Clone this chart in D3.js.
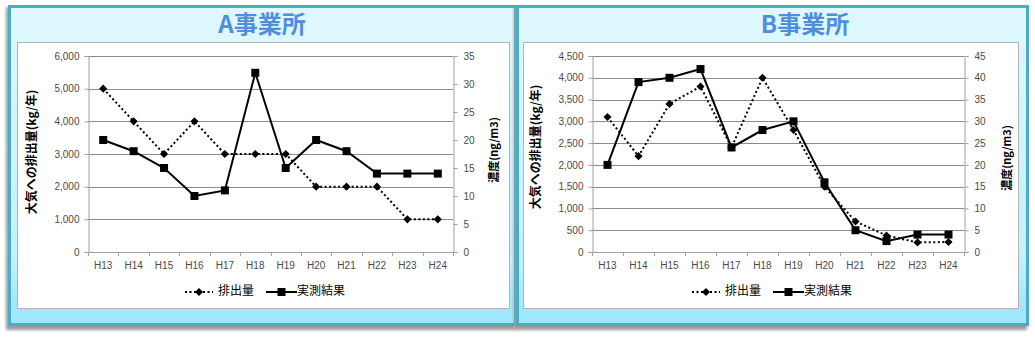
<!DOCTYPE html>
<html>
<head>
<meta charset="utf-8">
<script src="https://cdn.jsdelivr.net/npm/d3@7"></script>
<style>
  html, body { margin: 0; padding: 0; background: #ffffff; }
  svg { display: block; }
</style>
</head>
<body>
<svg id="chart" width="1035" height="338"></svg>
<script>
// ---- data ----
const years = ["H13","H14","H15","H16","H17","H18","H19","H20","H21","H22","H23","H24"];

const titleA = "A事業所";
const emissionA = [5000, 4000, 3000, 4000, 3000, 3000, 3000, 2000, 2000, 2000, 1000, 1000];
const measuredA = [20, 18, 15, 10, 11, 32, 15, 20, 18, 14, 14, 14];
const leftTicksA = [0, 1000, 2000, 3000, 4000, 5000, 6000];
const rightTicksA = [0, 5, 10, 15, 20, 25, 30, 35];

const titleB = "B事業所";
const emissionB = [3100, 2200, 3400, 3800, 2400, 4000, 2800, 1500, 700, 380, 220, 230];
const measuredB = [20, 39, 40, 42, 24, 28, 30, 16, 5, 2.5, 4, 4];
const leftTicksB = [0, 500, 1000, 1500, 2000, 2500, 3000, 3500, 4000, 4500];
const rightTicksB = [0, 5, 10, 15, 20, 25, 30, 35, 40, 45];

const leftAxisTitle = "大気への排出量(kg/年)";
const rightAxisTitle = "濃度(ng/m3)";
const seriesNames = ["排出量", "実測結果"];

// ---- drawing ----
const svg = d3.select("#chart");
const defs = svg.append("defs");
const grad = defs.append("linearGradient").attr("id", "panelGrad")
  .attr("x1", 0).attr("y1", 0).attr("x2", 0).attr("y2", 1);
grad.append("stop").attr("offset", "0").attr("stop-color", "#e0f8fe");
grad.append("stop").attr("offset", "0.8").attr("stop-color", "#c2f0fd");
grad.append("stop").attr("offset", "0.94").attr("stop-color", "#a0e8fb");
grad.append("stop").attr("offset", "1").attr("stop-color", "#9fe8fb");
const shadow = defs.append("filter").attr("id", "shadow")
  .attr("x", "-5%").attr("y", "-5%").attr("width", "110%").attr("height", "115%");
shadow.append("feGaussianBlur").attr("stdDeviation", 1.6);

const FONT = "'Liberation Sans', Arial, sans-serif";
const JFONT = "'Noto Sans CJK JP', 'Noto Sans', sans-serif";
const fmt = d3.format(",");

function drawPanel(cfg) {
  const g = svg.append("g");
  // shadow
  g.append("rect")
    .attr("x", cfg.outer[0] - 2).attr("y", cfg.outer[1] + 2)
    .attr("width", cfg.outer[2] - cfg.outer[0]).attr("height", cfg.outer[3] - cfg.outer[1] + 2)
    .attr("fill", "#9a9a9a").attr("filter", "url(#shadow)");
  // panel
  g.append("rect")
    .attr("x", cfg.outer[0] + 1.5).attr("y", cfg.outer[1] + 1.5)
    .attr("width", cfg.outer[2] - cfg.outer[0] - 3).attr("height", cfg.outer[3] - cfg.outer[1] - 3)
    .attr("fill", "url(#panelGrad)")
    .attr("stroke", "#4aacc6").attr("stroke-width", 3);
  // title
  g.append("text")
    .attr("x", cfg.titleX).attr("y", 33)
    .attr("text-anchor", "middle")
    .attr("font-family", JFONT).attr("font-weight", "bold")
    .attr("font-size", 24).attr("fill", "#4f8fd9")
    .text(cfg.title);
  // white chart box
  g.append("rect")
    .attr("x", cfg.box[0] + 0.5).attr("y", cfg.box[1] + 0.5)
    .attr("width", cfg.box[2] - cfg.box[0]).attr("height", cfg.box[3] - cfg.box[1])
    .attr("fill", "#ffffff").attr("stroke", "#b4b4b4").attr("stroke-width", 1);

  const [x0, x1, yTop, yBot] = cfg.plot;
  const x = d3.scaleBand().domain(years).range([x0, x1]);
  const yL = d3.scaleLinear().domain([0, d3.max(cfg.leftTicks)]).range([yBot, yTop]);
  const yR = d3.scaleLinear().domain([0, d3.max(cfg.rightTicks)]).range([yBot, yTop]);

  // gridlines
  g.append("g").selectAll("line").data(cfg.leftTicks.filter(d => d > 0)).join("line")
    .attr("x1", x0).attr("x2", x1)
    .attr("y1", d => Math.round(yL(d)) + 0.5).attr("y2", d => Math.round(yL(d)) + 0.5)
    .attr("stroke", "#8c8c8c").attr("stroke-width", 1);

  // left axis
  const axL = g.append("g").attr("transform", `translate(${x0 + 0.5},0)`)
    .call(d3.axisLeft(yL).tickValues(cfg.leftTicks).tickFormat(fmt).tickSize(4).tickPadding(5));
  // right axis
  const axR = g.append("g").attr("transform", `translate(${x1 + 0.5},0)`)
    .call(d3.axisRight(yR).tickValues(cfg.rightTicks).tickSize(4).tickPadding(6));
  // bottom axis
  const axB = g.append("g").attr("transform", `translate(0,${Math.round(yBot) + 0.5})`)
    .call(d3.axisBottom(x).tickSize(0).tickPadding(9));
  // category boundary ticks
  g.append("g").selectAll("line").data(years.concat(["_end"])).join("line")
    .attr("x1", (d, i) => Math.round(x0 + i * x.step()) + 0.5)
    .attr("x2", (d, i) => Math.round(x0 + i * x.step()) + 0.5)
    .attr("y1", yBot).attr("y2", yBot + 4)
    .attr("stroke", "#a0a0a0");

  [axL, axR, axB].forEach(ax => {
    ax.select(".domain").attr("stroke", "#a0a0a0");
    ax.selectAll(".tick line").attr("stroke", "#a0a0a0");
    ax.selectAll(".tick text").attr("font-family", FONT).attr("font-size", 10).attr("fill", "#4a4a4a");
  });
  axB.select(".domain").attr("d", `M${x0},0H${x1}`);

  // axis titles
  g.append("text")
    .attr("transform", `translate(${cfg.leftTitlePos[0]},${cfg.leftTitlePos[1]}) rotate(-90)`)
    .attr("text-anchor", "middle").attr("dominant-baseline", "middle")
    .attr("font-family", JFONT).attr("font-weight", "bold").attr("font-size", 12).attr("fill", "#000")
    .text(leftAxisTitle);
  g.append("text")
    .attr("transform", `translate(${cfg.rightTitlePos[0]},${cfg.rightTitlePos[1]}) rotate(-90)`)
    .attr("text-anchor", "middle").attr("dominant-baseline", "middle")
    .attr("font-family", JFONT).attr("font-weight", "bold").attr("font-size", 11).attr("fill", "#000")
    .text(rightAxisTitle);

  const cx = d => x(d) + x.bandwidth() / 2;
  const diamond = d3.symbol().type(d3.symbolDiamond2).size(42);
  const square = d3.symbol().type(d3.symbolSquare).size(64);

  // emission series (dotted, left axis)
  const lineL = d3.line().x((d, i) => cx(years[i])).y(d => yL(d));
  g.append("path").datum(cfg.emission)
    .attr("d", lineL).attr("fill", "none").attr("stroke", "#000")
    .attr("stroke-width", 2).attr("stroke-dasharray", "2,2.5");
  g.append("g").selectAll("path").data(cfg.emission).join("path")
    .attr("transform", (d, i) => `translate(${cx(years[i])},${yL(d)})`)
    .attr("d", diamond).attr("fill", "#000");

  // measured series (solid, right axis)
  const lineR = d3.line().x((d, i) => cx(years[i])).y(d => yR(d));
  g.append("path").datum(cfg.measured)
    .attr("d", lineR).attr("fill", "none").attr("stroke", "#000").attr("stroke-width", 2);
  g.append("g").selectAll("path").data(cfg.measured).join("path")
    .attr("transform", (d, i) => `translate(${cx(years[i])},${yR(d)})`)
    .attr("d", square).attr("fill", "#000");

  // legend
  const lg = g.append("g");
  const ly = 292;
  const L = cfg.legendX;
  lg.append("line").attr("x1", L).attr("x2", L + 28).attr("y1", ly).attr("y2", ly)
    .attr("stroke", "#000").attr("stroke-width", 2).attr("stroke-dasharray", "2,2.5");
  lg.append("path").attr("transform", `translate(${L + 14},${ly})`).attr("d", diamond).attr("fill", "#000");
  lg.append("text").attr("x", L + 33).attr("y", ly).attr("dominant-baseline", "middle")
    .attr("font-family", JFONT).attr("font-size", 12).attr("fill", "#000").text(seriesNames[0]);
  const L2 = L + 81;
  lg.append("line").attr("x1", L2).attr("x2", L2 + 31).attr("y1", ly).attr("y2", ly)
    .attr("stroke", "#000").attr("stroke-width", 2);
  lg.append("path").attr("transform", `translate(${L2 + 15.5},${ly})`).attr("d", square).attr("fill", "#000");
  lg.append("text").attr("x", L2 + 31).attr("y", ly).attr("dominant-baseline", "middle")
    .attr("font-family", JFONT).attr("font-size", 12).attr("fill", "#000").text(seriesNames[1]);
}

drawPanel({
  title: titleA, titleX: 262,
  outer: [8, 5, 517, 326], box: [17, 42, 509, 308],
  plot: [88, 453, 56, 252],
  leftTicks: leftTicksA, rightTicks: rightTicksA,
  emission: emissionA, measured: measuredA,
  leftTitlePos: [33, 152], rightTitlePos: [495, 150],
  legendX: 185
});
drawPanel({
  title: titleB, titleX: 805,
  outer: [516, 5, 1029, 326], box: [523, 42, 1018, 308],
  plot: [592, 964, 56, 252],
  leftTicks: leftTicksB, rightTicks: rightTicksB,
  emission: emissionB, measured: measuredB,
  leftTitlePos: [537, 147], rightTitlePos: [1008, 158],
  legendX: 692
});
</script>
</body>
</html>
